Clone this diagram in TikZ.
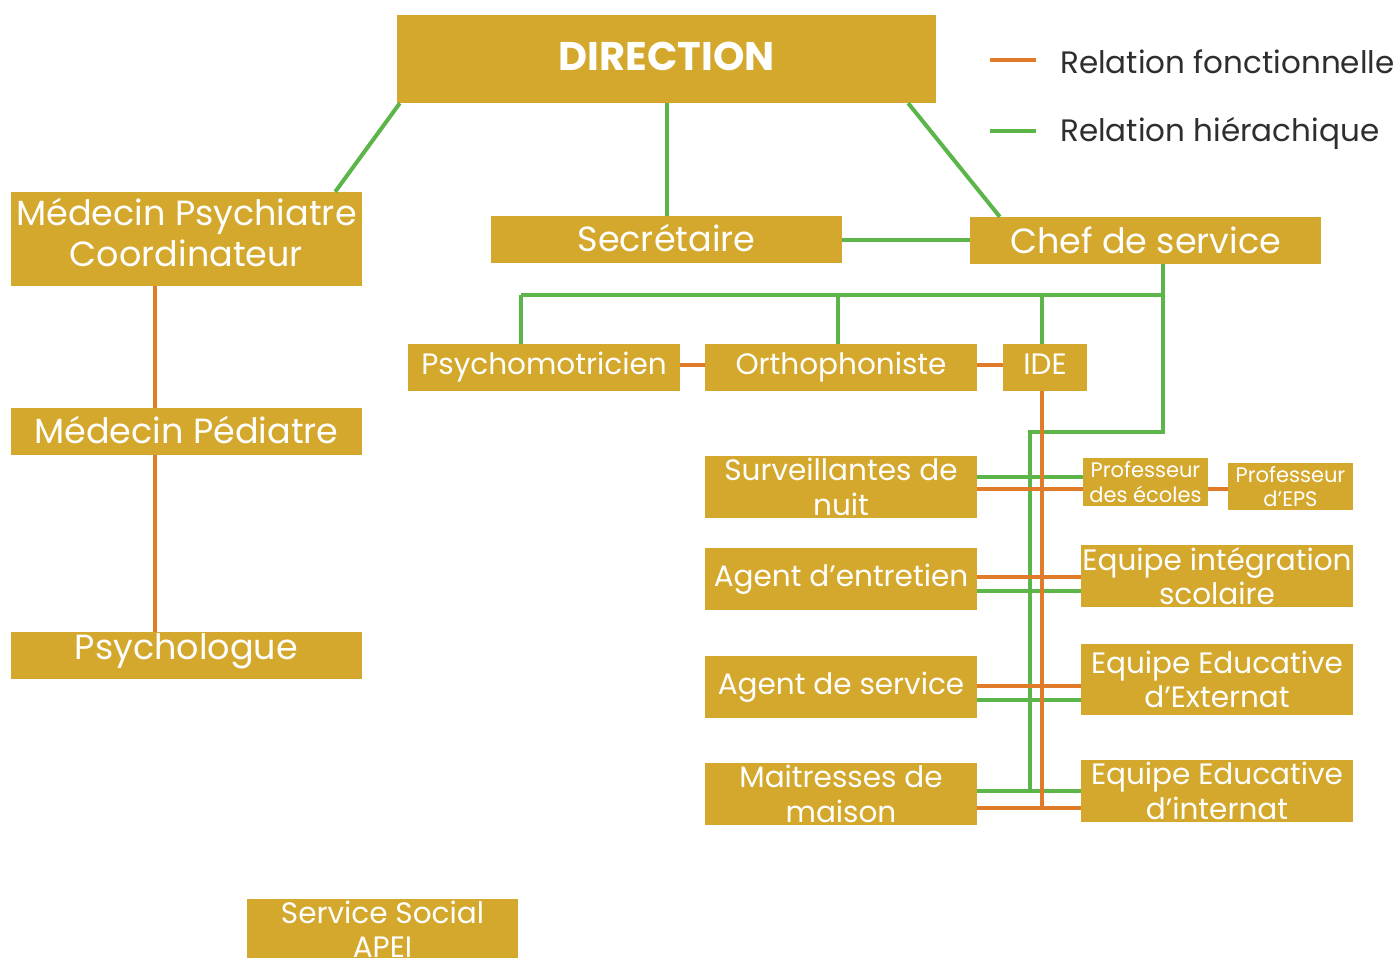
\documentclass[tikz,border=0pt]{standalone}
\usepackage{fontspec}
\setmainfont{Poppins}
\usetikzlibrary{calc}
\definecolor{gold}{HTML}{D4A82C}
\definecolor{hgreen}{HTML}{5BB548}
\definecolor{forange}{HTML}{E07B2A}
\definecolor{legtext}{HTML}{2E2E2E}
\begin{document}
\begin{tikzpicture}[x=1pt,y=-1pt,
  box/.style={fill=gold,inner sep=0pt},
  tA/.style={text=white,inner sep=0pt,align=center,font=\fontsize{35}{41}\selectfont},
  tB/.style={text=white,inner sep=0pt,align=center,font=\fontsize{29.5}{34.5}\selectfont},
  tS/.style={text=white,inner sep=0pt,align=center,font=\fontsize{21}{24.5}\selectfont},
  tT/.style={text=white,inner sep=0pt,align=center,font=\fontsize{40}{44}\selectfont\bfseries},
  legend/.style={text=legtext,inner sep=0pt,anchor=west,font=\fontsize{31}{34}\selectfont},
  hier/.style={draw=hgreen,line width=4pt},
  func/.style={draw=forange,line width=4pt}]
\useasboundingbox (0,0) rectangle (1400,958);
\fill[white] (0,0) rectangle (1400,958);

% boxes
\node[box,minimum width=539pt,minimum height=88pt] (dir) at (666.5,59) {};
\node[box,minimum width=351pt,minimum height=94pt] (mpc) at (186.5,239) {};
\node[box,minimum width=351pt,minimum height=47pt] (sec) at (666.5,239.5) {};
\node[box,minimum width=351pt,minimum height=47pt] (chef) at (1145.5,240.5) {};
\node[box,minimum width=272pt,minimum height=47pt] (psm) at (544,367.5) {};
\node[box,minimum width=272pt,minimum height=47pt] (ort) at (841,367.5) {};
\node[box,minimum width=84pt,minimum height=47pt] (ide) at (1045,367.5) {};
\node[box,minimum width=351pt,minimum height=47pt] (mped) at (186.5,431.5) {};
\node[box,minimum width=351pt,minimum height=47pt] (psyc) at (186.5,655.5) {};
\node[box,minimum width=272pt,minimum height=62pt] (surv) at (841,487) {};
\node[box,minimum width=272pt,minimum height=62pt] (ent) at (841,579) {};
\node[box,minimum width=272pt,minimum height=62pt] (asv) at (841,687) {};
\node[box,minimum width=272pt,minimum height=62pt] (mai) at (841,794) {};
\node[box,minimum width=125pt,minimum height=48pt] (pe) at (1145.5,482) {};
\node[box,minimum width=125pt,minimum height=47pt] (eps) at (1290.5,486.5) {};
\node[box,minimum width=272pt,minimum height=62pt] (eis) at (1217,576) {};
\node[box,minimum width=272pt,minimum height=71pt] (eex) at (1217,679.5) {};
\node[box,minimum width=272pt,minimum height=62pt] (ein) at (1217,791) {};
\node[box,minimum width=271pt,minimum height=61pt] (soc) at (382.5,929.5) {};

% texts
\node[tT,yshift=3pt] (dirt) at (dir) {DIRECTION};
\node[tA,yshift=7pt] (mpct) at (mpc) {Médecin Psychiatre\\Coordinateur};
\node[tA,yshift=2pt] (sect) at (sec) {Secrétaire};
\node[tA] (cheft) at (chef) {Chef de service};
\node[tB] (psmt) at (psm) {Psychomotricien};
\node[tB] (ortt) at (ort) {Orthophoniste};
\node[tB,yshift=3pt] (idet) at (ide) {IDE};
\node[tA,yshift=2pt] (mpedt) at (mped) {Médecin Pédiatre};
\node[tA,yshift=4pt] (psyct) at (psyc) {Psychologue};
\node[tB] (survt) at (surv) {Surveillantes de\\nuit};
\node[tB] (entt) at (ent) {Agent d’entretien};
\node[tB] (asvt) at (asv) {Agent de service};
\node[tB] (mait) at (mai) {Maitresses de\\maison};
\node[tS] (pet) at (pe) {Professeur\\des écoles};
\node[tS] (epst) at (eps) {Professeur\\d’EPS};
\node[tB] (eist) at (eis) {Equipe intégration\\scolaire};
\node[tB] (eext) at (eex) {Equipe Educative\\d’Externat};
\node[tB] (eint) at (ein) {Equipe Educative\\d’internat};
\node[tB] (soct) at (soc) {Service Social\\APEI};

% legend
\node[legend] (lf) at (1060,62) {Relation fonctionnelle};
\node[legend] (lh) at (1060,133) {Relation hiérachique};
\coordinate (lfa) at ($(lf.west)+(-70,-2)$);
\coordinate (lfb) at ($(lf.west)+(-24,-2)$);
\coordinate (lha) at ($(lh.west)+(-70,-2)$);
\coordinate (lhb) at ($(lh.west)+(-24,-2)$);
\draw[func] (lfa) -- (lfb);
\draw[hier] (lha) -- (lhb);

% hierarchical links
\coordinate (b1) at (1163,295);
\coordinate (b2) at (1163,432);
\coordinate (b3) at (1030,432);
\coordinate (t1) at (521,295);
\coordinate (d1) at ($(dir.south west)+(3,0)$);
\coordinate (m1) at ($(mpc.north east)+(-27,0)$);
\coordinate (d2) at ($(dir.south east)+(-28,0)$);
\coordinate (c1) at ($(chef.north west)+(30,0)$);
\coordinate (o1) at ($(ort.north)+(-3,0)$);
\coordinate (i1) at ($(ide.north)+(-3,0)$);
\draw[hier] (d1) -- (m1);
\draw[hier] (dir.south) -- (sec.north);
\draw[hier] (d2) -- (c1);
\draw[hier] (sec.east) -- (sec.east -| chef.west);
\draw[hier] (chef.south -| b1) -- (b2) -- (b3) -- (b3 |- ein.west);
\draw[hier] (t1) -- (b1);
\draw[hier] (t1) -- (t1 |- psm.north);
\draw[hier] (o1 |- b1) -- (o1);
\draw[hier] (i1 |- b1) -- (i1);
\coordinate (g1) at ($(surv.east)+(0,-10)$);
\coordinate (g2) at ($(ent.east)+(0,12)$);
\coordinate (g3) at ($(asv.east)+(0,13)$);
\coordinate (g4) at ($(mai.east)+(0,-3)$);
\draw[hier] (g1) -- (g1 -| pe.west);
\draw[hier] (g2) -- (g2 -| eis.west);
\draw[hier] (g3) -- (g3 -| eex.west);
\draw[hier] (g4) -- (g4 -| ein.west);

% functional links
\coordinate (f1) at ($(surv.east)+(0,2)$);
\coordinate (f2) at ($(ent.east)+(0,-2)$);
\coordinate (f3) at ($(asv.east)+(0,-1)$);
\coordinate (f4) at ($(mai.east)+(0,14)$);
\coordinate (f5) at ($(pe.east)+(0,7)$);
\coordinate (f6) at ($(psm.east)+(0,-3)$);
\coordinate (f7) at ($(ort.east)+(0,-3)$);
\coordinate (ov) at (1042,808);
\draw[func] (ide.south -| ov) -- (ov);
\draw[func] (f1) -- (f1 -| pe.west);
\draw[func] (f2) -- (f2 -| eis.west);
\draw[func] (f3) -- (f3 -| eex.west);
\draw[func] (f4) -- (f4 -| ein.west);
\draw[func] (f5) -- (f5 -| eps.west);
\draw[func] (f6) -- (f6 -| ort.west);
\draw[func] (f7) -- (f7 -| ide.west);
\coordinate (ol) at (155,0);
\draw[func] (mpc.south -| ol) -- (mped.north -| ol);
\draw[func] (mped.south -| ol) -- (psyc.north -| ol);
\end{tikzpicture}
\end{document}
